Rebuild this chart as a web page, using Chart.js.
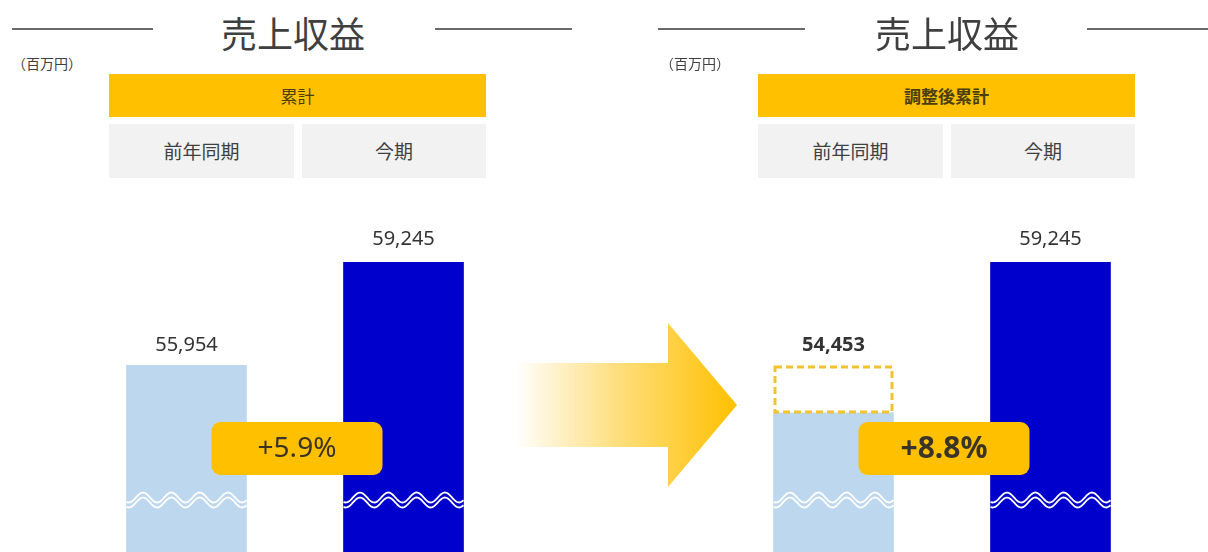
<!DOCTYPE html>
<html>
<head>
<meta charset="utf-8">
<script src="https://cdn.jsdelivr.net/npm/chart.js@4.4.1/dist/chart.umd.min.js"></script>
<style>
  html, body { margin: 0; padding: 0; background: #fff; }
  #page { position: relative; width: 1208px; height: 552px; overflow: hidden;
          font-family: "Noto Sans CJK JP", "Noto Sans", sans-serif; color: #404040; }
  .abs { position: absolute; }
  .rule { position: absolute; height: 1.5px; background: #6a6a6a; top: 28px; }
  .title { position: absolute; top: 10px; width: 240px; text-align: center; font-size: 36px; line-height: 44px; color: #3f3f3f; }
  .unit { position: absolute; top: 53px; font-size: 14px; color: #404040; }
  .head { position: absolute; top: 74px; height: 43px; line-height: 43px; width: 377px; background: #FFC000;
          text-align: center; font-size: 17px; color: #4a3e10; }
  .cell { position: absolute; top: 124px; height: 54px; line-height: 54px; background: #F2F2F2;
          text-align: center; font-size: 19px; color: #404040; }
  canvas { position: absolute; }
</style>
</head>
<body>
<div id="page">
  <!-- left panel -->
  <div class="rule" style="left:12px;width:141px"></div>
  <div class="title" style="left:173px">売上収益</div>
  <div class="rule" style="left:435px;width:137px"></div>
  <div class="unit" style="left:12px">（百万円）</div>
  <div class="head" style="left:109px">累計</div>
  <div class="cell" style="left:109px;width:185px">前年同期</div>
  <div class="cell" style="left:302px;width:184px">今期</div>
  <canvas id="c1" width="434" height="376" style="left:78px;top:176px"></canvas>

  <!-- arrow -->
  <svg class="abs" style="left:0;top:0" width="1208" height="552">
    <defs>
      <linearGradient id="ag" x1="515" y1="0" x2="737" y2="0" gradientUnits="userSpaceOnUse">
        <stop offset="0" stop-color="#FFFFFF"/>
        <stop offset="0.45" stop-color="#FEDF80"/>
        <stop offset="1" stop-color="#FFC000"/>
      </linearGradient>
    </defs>
    <polygon points="515,363 668,363 668,323 737,405 668,487 668,447 515,447" fill="url(#ag)"/>
  </svg>

  <!-- right panel -->
  <div class="rule" style="left:658px;width:147px"></div>
  <div class="title" style="left:827px">売上収益</div>
  <div class="rule" style="left:1087px;width:121px"></div>
  <div class="unit" style="left:660px">（百万円）</div>
  <div class="head" style="left:758px;font-weight:bold">調整後累計</div>
  <div class="cell" style="left:758px;width:185px">前年同期</div>
  <div class="cell" style="left:951px;width:184px">今期</div>
  <canvas id="c2" width="434" height="376" style="left:725px;top:176px"></canvas>
</div>

<script>
// data
const categories = ['前年同期', '今期'];
const reported = [55954, 59245];      // 累計
const adjusted = [54453, 59245];      // 調整後累計
const growthLabels = ['+5.9%', '+8.8%'];
const barColors = ['#BDD7EE', '#0000CC'];

const yMin = 50000, yMax = 62000;

// labels, axis-break waves, growth badge, dashed box for the unadjusted figure
const overlay = {
  id: 'overlay',
  afterDatasetsDraw(chart, args, opts) {
    const ctx = chart.ctx;
    const ys = chart.scales.y;
    const bars = chart.getDatasetMeta(0).data;
    const values = chart.data.datasets[0].data;
    const area = chart.chartArea;
    ctx.save();

    // dashed box showing the figure before adjustment
    let ghostTop = null;
    if (opts.ghost != null) {
      const b = bars[0];
      ghostTop = ys.getPixelForValue(opts.ghost);
      const x0 = b.x - b.width / 2 + 1.5, x1 = b.x + b.width / 2 - 1.5;
      ctx.fillStyle = '#fff';
      ctx.fillRect(x0, ghostTop, x1 - x0, b.y - ghostTop);
      ctx.setLineDash([7, 4]);
      ctx.lineWidth = 3;
      ctx.strokeStyle = '#F2C230';
      ctx.strokeRect(x0, ghostTop + 1.5, x1 - x0, b.y - ghostTop - 2);
      ctx.setLineDash([]);
    }

    // double wavy break line
    const wy = area.bottom - 52;
    ctx.strokeStyle = '#fff';
    ctx.lineWidth = 1.8;
    bars.forEach(b => {
      const x0 = b.x - b.width / 2, x1 = b.x + b.width / 2;
      [-2.5, 2.5].forEach(off => {
        ctx.beginPath();
        for (let x = x0; x <= x1; x += 1) {
          const yy = wy + off - 5 * Math.cos(2 * Math.PI * (x - x0 - 16.5) / 28.3);
          if (x === x0) ctx.moveTo(x, yy); else ctx.lineTo(x, yy);
        }
        ctx.stroke();
      });
    });

    // value labels (only the adjusted prior-year figure is bold)
    ctx.fillStyle = '#333';
    ctx.textAlign = 'center';
    ctx.textBaseline = 'middle';
    bars.forEach((b, i) => {
      let top = b.y;
      if (i === 0 && ghostTop != null) top = ghostTop;
      ctx.font = (opts.bold && i === 0 ? 'bold ' : '') + '20px "Noto Sans", sans-serif';
      ctx.fillText(values[i].toLocaleString('en-US'), b.x, top - (i === 0 ? 20 : 23));
    });

    // growth badge
    const cx = (bars[0].x + bars[1].x) / 2 + 2;
    const cy = area.bottom - 103.5;
    const w = 171, h = 53;
    ctx.fillStyle = '#FFC000';
    ctx.beginPath();
    ctx.roundRect(cx - w / 2, cy - h / 2, w, h, 9);
    ctx.fill();
    ctx.fillStyle = '#3a3428';
    ctx.font = (opts.bold ? 'bold 30px ' : '28px ') + '"Noto Sans", sans-serif';
    ctx.fillText(opts.badge, cx, cy + 1);

    ctx.restore();
  }
};

function makeChart(id, values, badge, ghost, bold) {
  return new Chart(document.getElementById(id), {
    type: 'bar',
    data: {
      labels: categories,
      datasets: [{
        data: values,
        backgroundColor: barColors,
        borderWidth: 0,
        barThickness: 120
      }]
    },
    options: {
      responsive: false,
      animation: false,
      events: [],
      layout: { padding: 0 },
      scales: {
        x: { display: false },
        y: { display: false, min: yMin, max: yMax }
      },
      plugins: {
        legend: { display: false },
        tooltip: { enabled: false },
        overlay: { badge: badge, ghost: ghost, bold: bold }
      }
    },
    plugins: [overlay]
  });
}

makeChart('c1', reported, growthLabels[0], null, false);
makeChart('c2', adjusted, growthLabels[1], reported[0], true);
</script>
</body>
</html>
